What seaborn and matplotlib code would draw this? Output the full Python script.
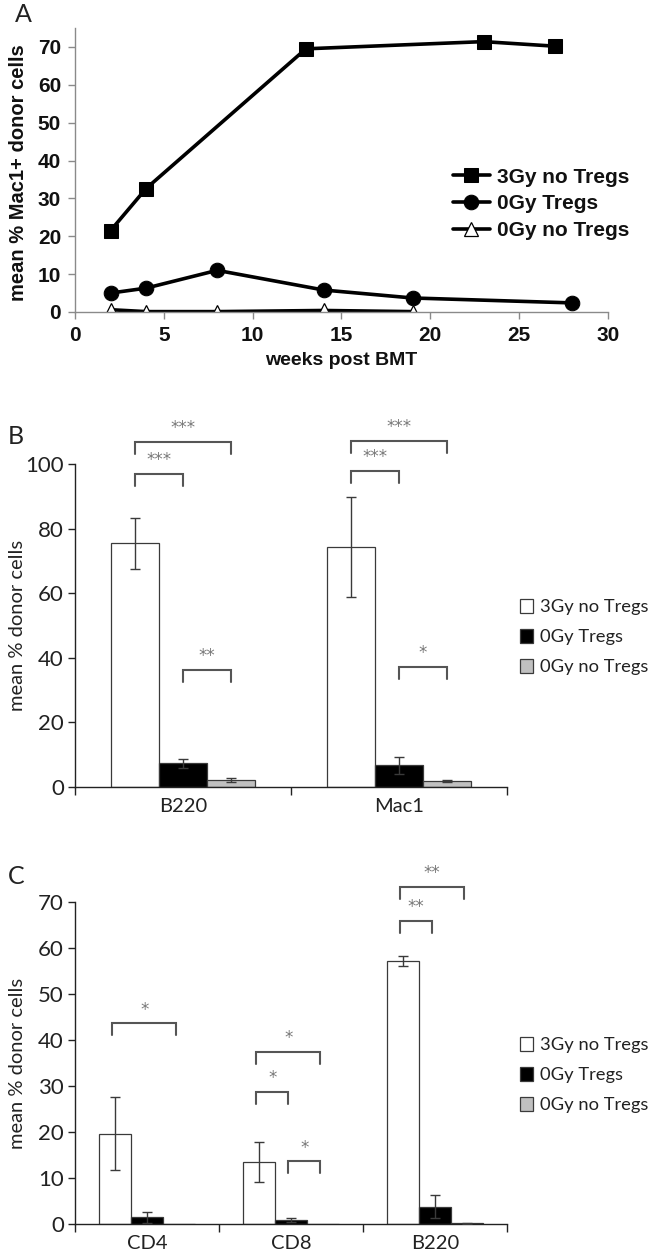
import matplotlib
matplotlib.use('Agg')
import matplotlib.pyplot as plt
import seaborn as sns
import pandas as pd
import numpy as np

sns.set_theme(style='white')
NARROW = ['Liberation Sans Narrow', 'Liberation Sans', 'DejaVu Sans']
CAL = ['Lato', 'DejaVu Sans']
plt.rcParams['font.family'] = NARROW

# ---------------- Panel A data ----------------
weeks_3gy = [2, 4, 13, 23, 27]
vals_3gy = [21.5, 32.6, 69.5, 71.4, 70.2]
weeks_0gy_tregs = [2, 4, 8, 14, 19, 28]
vals_0gy_tregs = [5.0, 6.3, 11.0, 5.8, 3.7, 2.4]
weeks_0gy_none = [2, 4, 8, 14, 19]
vals_0gy_none = [0.6, 0.1, 0.1, 0.4, 0.1]

groups = ['3Gy no Tregs', '0Gy Tregs', '0Gy no Tregs']

# ---------------- Panel B data ----------------
b_cats = ['B220', 'Mac1']
b_3gy = [75.4, 74.2]
b_0gy_tregs = [7.4, 6.7]
b_0gy_none = [2.3, 2.0]
b_err_3gy = [7.8, 15.5]
b_err_0gy_tregs = [1.4, 2.6]
b_err_0gy_none = [0.6, 0.3]

# ---------------- Panel C data ----------------
c_cats = ['CD4', 'CD8', 'B220']
c_3gy = [19.6, 13.5, 57.2]
c_0gy_tregs = [1.5, 0.9, 3.7]
c_0gy_none = [0.0, 0.0, 0.2]
c_err_3gy = [7.9, 4.3, 1.05]
c_err_0gy_tregs = [1.2, 0.4, 2.5]
c_err_0gy_none = [0.0, 0.0, 0.1]

# significance annotations: (category index, group a, group b, bracket top, label)
b_sig = [(0, 0, 1, 96.8, '***'), (0, 0, 2, 106.7, '***'), (0, 1, 2, 36.2, '**'),
         (1, 0, 1, 97.9, '***'), (1, 0, 2, 107.2, '***'), (1, 1, 2, 37.2, '*')]
c_sig = [(0, 0, 2, 43.6, '*'), (1, 0, 2, 37.4, '*'), (1, 0, 1, 28.7, '*'),
         (1, 1, 2, 13.6, '*'), (2, 0, 2, 73.2, '**'), (2, 0, 1, 65.8, '**')]

fig = plt.figure(figsize=(6.53, 12.55), dpi=100)

# ======== Panel A ========
axA = fig.add_axes([0.1149, 0.7514, 0.816, 0.2263])
sns.lineplot(x=weeks_3gy, y=vals_3gy, ax=axA, color='black', lw=2.6, marker='s',
             markersize=10.5, markeredgecolor='black', label=groups[0])
sns.lineplot(x=weeks_0gy_tregs, y=vals_0gy_tregs, ax=axA, color='black', lw=2.6, marker='o',
             markersize=10.5, markeredgecolor='black', label=groups[1])
sns.lineplot(x=weeks_0gy_none, y=vals_0gy_none, ax=axA, color='black', lw=2.6, marker='^',
             markersize=9.5, markerfacecolor='white', markeredgecolor='black',
             markeredgewidth=0.9, label=groups[2])
axA.set_xlim(0, 30)
axA.set_ylim(0, 75)
axA.set_xticks(range(0, 31, 5))
axA.set_yticks(range(0, 71, 10))
for s in ['top', 'right']:
    axA.spines[s].set_visible(False)
for s in ['left', 'bottom']:
    axA.spines[s].set_color('#8a8a8a')
    axA.spines[s].set_linewidth(1.0)
axA.tick_params(axis='both', which='major', direction='out', length=5, width=1,
                color='#8a8a8a', labelsize=15, pad=5, left=True, bottom=True,
                labelcolor='#111111')
for lab in axA.get_xticklabels() + axA.get_yticklabels():
    lab.set_fontweight('bold')
axA.set_ylabel('mean % Mac1+ donor cells', fontsize=14.5, fontweight='bold', color='#111111')
axA.yaxis.set_label_coords(-0.088, 0.49)
axA.set_xlabel('weeks post BMT', fontsize=14, fontweight='bold', color='#111111')
axA.xaxis.set_label_coords(0.5, -0.14)
legA = axA.legend(loc='center left', bbox_to_anchor=(0.693, 0.8375),
                  bbox_transform=fig.transFigure, frameon=False, fontsize=15,
                  handlelength=1.8, handletextpad=0.35, labelspacing=0.38,
                  borderpad=0, borderaxespad=0)
for t in legA.get_texts():
    t.set_fontweight('bold')
    t.set_color('#111111')


def bar_panel(ax, cats, series, errs, ylim, yticks, sig, dx, leg_y):
    rows = []
    for g, vals in zip(groups, series):
        for c, v in zip(cats, vals):
            rows.append({'cat': c, 'group': g, 'val': v})
    df = pd.DataFrame(rows)
    sns.barplot(data=df, x='cat', y='val', hue='group', order=cats, hue_order=groups,
                palette=['white', 'black', '#c0c0c0'], width=0.667, gap=0,
                edgecolor='#3a3a3a', linewidth=0.9, errorbar=None, ax=ax, saturation=1)
    centers = []
    for cont, e in zip(ax.containers, errs):
        cx = []
        for p, err in zip(cont.patches, e):
            x = p.get_x() + p.get_width() / 2
            cx.append(x)
            if err > 0:
                ax.errorbar(x, p.get_height(), yerr=err, fmt='none', ecolor='#3a3a3a',
                            elinewidth=1.0, capsize=3.5, capthick=1.0, zorder=5)
        centers.append(cx)
    ax.set_xlim(-0.5, len(cats) - 0.5)
    ax.set_ylim(*ylim)
    ax.set_yticks(yticks)
    ax.set_xlabel('')
    ax.set_ylabel('mean % donor cells', fontsize=14.5, family=CAL, color='#222222')
    ax.yaxis.set_label_coords(-0.113, 0.5)
    for s in ['top', 'right']:
        ax.spines[s].set_visible(False)
    for s in ['left', 'bottom']:
        ax.spines[s].set_color('#222222')
        ax.spines[s].set_linewidth(1.0)
    ax.set_xticks(np.arange(-0.5, len(cats), 1.0), minor=True)
    ax.tick_params(axis='x', which='major', length=0, labelsize=14.5, pad=8,
                   labelcolor='#222222')
    ax.tick_params(axis='x', which='minor', direction='out', length=6, width=1,
                   color='#222222', bottom=True)
    ax.tick_params(axis='y', which='major', direction='out', length=5, width=1,
                   color='#222222', left=True, labelsize=16, pad=3, labelcolor='#222222')
    for lab in ax.get_xticklabels() + ax.get_yticklabels():
        lab.set_family(CAL)
    leg_len = 0.037 * ylim[1]
    for ci, ga, gb, top, lab in sig:
        x1 = centers[ga][ci] + dx
        x2 = centers[gb][ci] + dx
        ax.plot([x1, x1, x2, x2], [top - leg_len, top, top, top - leg_len],
                color='#555555', lw=1.5, clip_on=False, solid_joinstyle='miter')
        ax.annotate(lab, ((x1 + x2) / 2, top), xytext=(0, 10), textcoords='offset points',
                    ha='center', va='center', fontsize=12, color='#777777',
                    family=['DejaVu Sans'], annotation_clip=False)
    ax.get_legend().remove()
    h, l = ax.get_legend_handles_labels()
    leg = ax.legend(h[:3], l[:3], loc='center left', bbox_to_anchor=(0.797, leg_y),
                    bbox_transform=fig.transFigure, frameon=False,
                    prop={'family': CAL, 'size': 13.2}, handlelength=0.68, handleheight=0.8,
                    handletextpad=0.4, labelspacing=0.75, borderpad=0, borderaxespad=0)
    for t in leg.get_texts():
        t.set_color('#222222')


# ======== Panel B ========
axB = fig.add_axes([0.1149, 0.3729, 0.6616, 0.2574])
bar_panel(axB, b_cats, [b_3gy, b_0gy_tregs, b_0gy_none],
          [b_err_3gy, b_err_0gy_tregs, b_err_0gy_none],
          (0, 100), range(0, 101, 20), b_sig, 0.0, 0.4924)

# ======== Panel C ========
axC = fig.add_axes([0.1149, 0.0247, 0.6616, 0.2566])
bar_panel(axC, c_cats, [c_3gy, c_0gy_tregs, c_0gy_none],
          [c_err_3gy, c_err_0gy_tregs, c_err_0gy_none],
          (0, 70), range(0, 71, 10), c_sig, -0.02, 0.1434)

# panel letters
fig.text(15 / 653, 1 - 14 / 1255, 'A', fontsize=18, family=CAL, ha='left', va='center', color='#222222')
fig.text(8 / 653, 1 - 436 / 1255, 'B', fontsize=18, family=CAL, ha='left', va='center', color='#222222')
fig.text(8 / 653, 1 - 876 / 1255, 'C', fontsize=18, family=CAL, ha='left', va='center', color='#222222')

fig.savefig('out.png', dpi=100, facecolor='white')
